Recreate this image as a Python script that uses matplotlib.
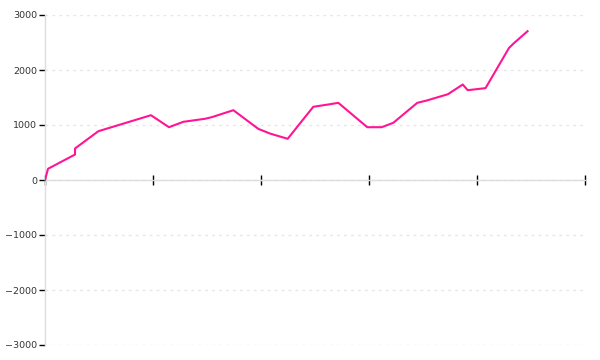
import matplotlib
matplotlib.use("Agg")
import matplotlib.pyplot as plt

x_vals = [0.0, 0.28, 2.78, 2.78, 4.94, 9.81, 11.48, 12.81, 14.81, 15.44, 17.44,
          19.75, 20.83, 22.47, 24.84, 26.23, 27.16, 29.84, 31.18, 32.25, 34.47,
          35.34, 37.31, 38.68, 39.14, 40.79, 42.96, 43.43, 44.68]
y_vals = [0, 204, 463, 573, 887, 1178, 960, 1058, 1113, 1142, 1269,
          930, 845, 749, 1331, 1373, 1403, 960, 960, 1040, 1403,
          1445, 1560, 1736, 1633, 1670, 2400, 2490, 2705]
y_ticks = [-3000, -2000, -1000, 0, 1000, 2000, 3000]
x_ticks = [0, 10, 20, 30, 40, 50]

fig = plt.figure(figsize=(6, 3.6), dpi=100)
ax = fig.add_axes([45 / 600, 15 / 360, 540 / 600, 330 / 360])

ax.plot(x_vals, y_vals, color="#ff1493", linewidth=1.5, solid_joinstyle="round", zorder=3)

ax.set_xlim(0, 50)
ax.set_ylim(-3000, 3000)
ax.set_yticks(y_ticks)
ax.set_yticklabels([str(v).replace("-", "\u2212") for v in y_ticks])
ax.set_xticks(x_ticks)
ax.set_xticklabels([])

for s in ["top", "right"]:
    ax.spines[s].set_visible(False)
ax.spines["bottom"].set_position(("data", 0))
ax.spines["bottom"].set_color("#dddddd")
ax.spines["left"].set_color("#dddddd")
ax.spines["bottom"].set_linewidth(1)
ax.spines["left"].set_linewidth(1)

ax.tick_params(axis="y", direction="out", length=4, width=1, color="black",
               labelsize=6.8, labelcolor="#333333", pad=1.5)
ax.tick_params(axis="x", direction="inout", length=6.5, width=1, color="black")

ax.yaxis.grid(True, color="#e6e6e6", linestyle=(0, (2, 3)), linewidth=1)
ax.set_axisbelow(True)

fig.savefig("out.png", dpi=100)
